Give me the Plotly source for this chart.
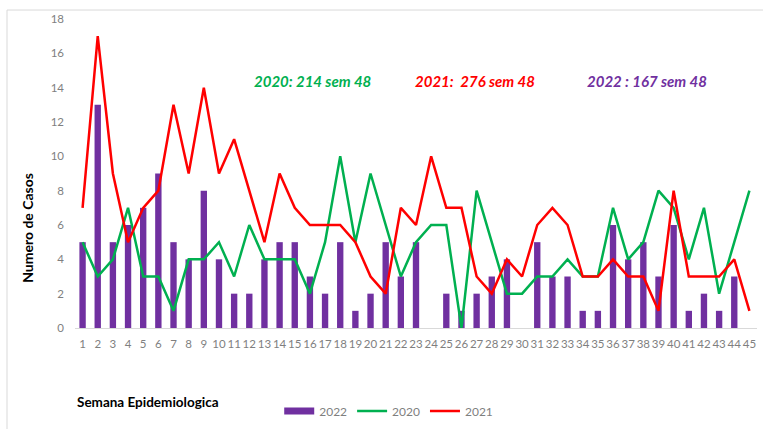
import plotly.graph_objects as go

semanas = list(range(1, 46))
casos_2022 = [5, 13, 5, 6, 7, 9, 5, 4, 8, 4, 2, 2, 4, 5, 5, 3, 2, 5, 1, 2, 5, 3, 5, 0, 2, 1, 2, 3, 4, 0,
              5, 3, 3, 1, 1, 6, 4, 5, 3, 6, 1, 2, 1, 3, 0]
casos_2020 = [5, 3, 4, 7, 3, 3, 1, 4, 4, 5, 3, 6, 4, 4, 4, 2, 5, 10, 5, 9, 6, 3, 5, 6, 6, 0, 8, 5, 2, 2,
              3, 3, 4, 3, 3, 7, 4, 5, 8, 7, 4, 7, 2, 5, 8]
casos_2021 = [7, 17, 9, 5, 7, 8, 13, 9, 14, 9, 11, 8, 5, 9, 7, 6, 6, 6, 5, 3, 2, 7, 6, 10, 7, 7, 3, 2, 4, 3,
              6, 7, 6, 3, 3, 4, 3, 3, 1, 8, 3, 3, 3, 4, 1]
y_ticks = [0, 2, 4, 6, 8, 10, 12, 14, 16, 18]

PURPLE = "#7030A0"
GREEN = "#00B050"
RED = "#FF0000"
GREY = "#7F7F7F"
FONT = "Lato, Open Sans, sans-serif"

fig = go.Figure()
fig.add_trace(go.Bar(x=semanas, y=casos_2022, name="2022", showlegend=False,
                     marker=dict(color=PURPLE, line=dict(width=0))))
# legend entry for the bars, drawn as a thick swatch like the original
fig.add_trace(go.Scatter(x=[None], y=[None], name="2022", mode="lines",
                         line=dict(color=PURPLE, width=7)))
fig.add_trace(go.Scatter(x=semanas, y=casos_2020, name="2020", mode="lines",
                         line=dict(color=GREEN, width=2.5)))
fig.add_trace(go.Scatter(x=semanas, y=casos_2021, name="2021", mode="lines",
                         line=dict(color=RED, width=2.5)))

fig.update_layout(
    width=763, height=429,
    margin=dict(l=75, r=6, t=19, b=101, autoexpand=False),
    plot_bgcolor="white", paper_bgcolor="white",
    font=dict(family=FONT, size=11, color=GREY),
    bargap=0.58,
    showlegend=True,
    legend=dict(orientation="h", x=0.46, xanchor="center", y=-0.269, yanchor="middle",
                font=dict(size=12, color=GREY), itemwidth=30, tracegroupgap=0),
    xaxis=dict(range=[0.5, 45.5], tickmode="array", tickvals=semanas, ticktext=[str(s) for s in semanas],
               showgrid=False, showline=True, linecolor="#D9D9D9", linewidth=1, ticks="",
               zeroline=False, tickfont=dict(size=11.5, color=GREY), tickangle=0, automargin=False,
               ticklabelstandoff=5),
    yaxis=dict(range=[0, 18], tickmode="array", tickvals=y_ticks, showgrid=False, zeroline=False,
               showline=False, ticks="", tickfont=dict(size=11.5, color=GREY), automargin=False,
               ticklabelstandoff=10),
)

fig.add_annotation(text="<b>Numero de Casos</b>", xref="paper", yref="paper", x=-0.069, y=0.324,
                   textangle=-90, showarrow=False, xanchor="center", yanchor="middle",
                   font=dict(size=14, color="black", family=FONT))
fig.add_annotation(text="<b><i>2020: 214 sem 48</i></b>", xref="paper", yref="paper", x=0.348, y=0.799,
                   showarrow=False, font=dict(size=15, color=GREEN, family=FONT), xanchor="center", yanchor="middle")
fig.add_annotation(text="<b><i>2021:  276 sem 48</i></b>", xref="paper", yref="paper", x=0.587, y=0.799,
                   showarrow=False, font=dict(size=15, color=RED, family=FONT), xanchor="center", yanchor="middle")
fig.add_annotation(text="<b><i>2022 : 167 sem 48</i></b>", xref="paper", yref="paper", x=0.838, y=0.799,
                   showarrow=False, font=dict(size=15, color=PURPLE, family=FONT), xanchor="center", yanchor="middle")
fig.add_annotation(text="<b>Semana Epidemiologica</b>", xref="paper", yref="paper", x=0.0, y=-0.239,
                   showarrow=False, xanchor="left", yanchor="middle", font=dict(size=13.5, color="black", family=FONT))

fig.add_shape(type="rect", xref="paper", yref="paper", x0=-0.0997, x1=1.05, y0=-0.40, y1=1.029,
              line=dict(color="#D9D9D9", width=1), layer="below")

fig.write_html("out.html", config={"displayModeBar": False},
               post_script="document.body.style.margin='0px';")
